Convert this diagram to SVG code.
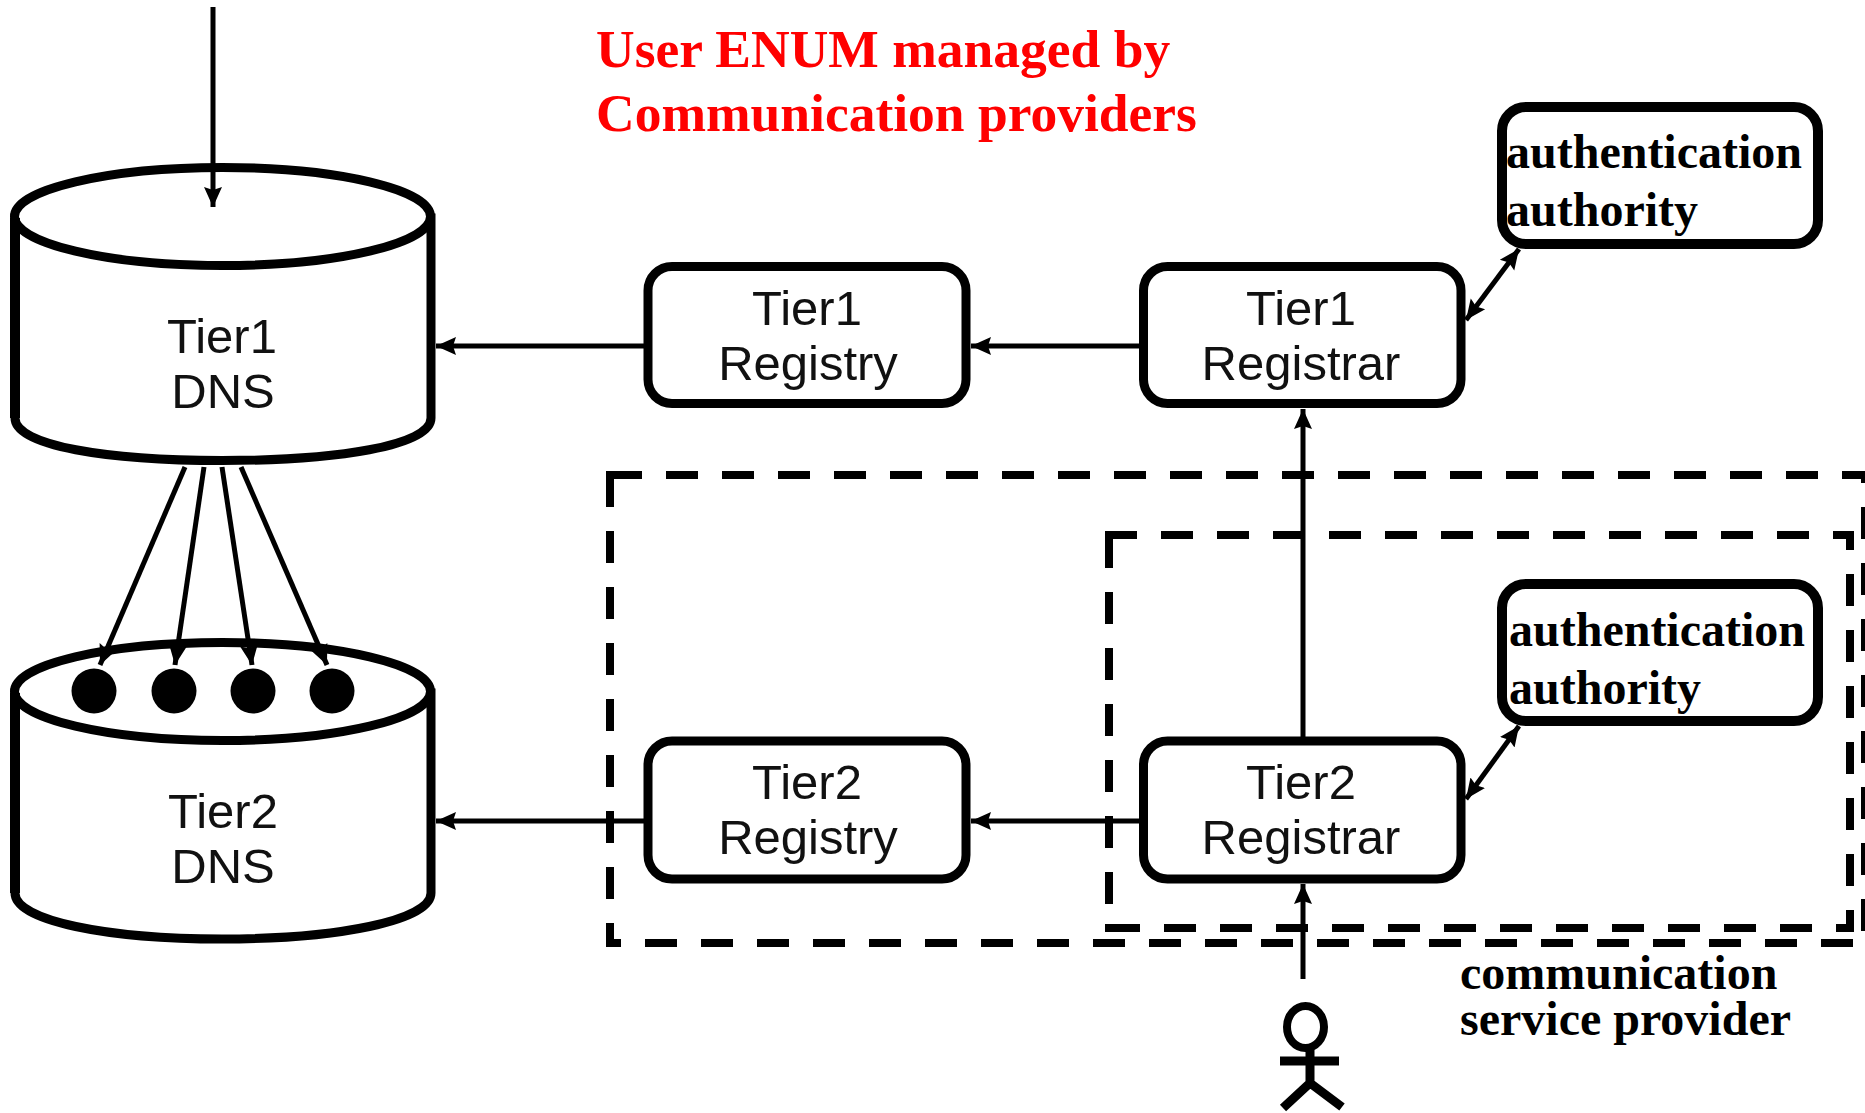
<svg xmlns="http://www.w3.org/2000/svg" width="1865" height="1113" viewBox="0 0 1865 1113">
<style>
.b{fill:#fff;stroke:#000;stroke-width:9}
.a{fill:#fff;stroke:#000;stroke-width:10}
.n{fill:none;stroke:#000;stroke-width:9}
.s{font-family:"Liberation Sans",Arial,sans-serif;font-size:49px;fill:#111;text-anchor:middle}
.t{font-family:"Liberation Serif","Times New Roman",serif;font-weight:bold;fill:#000}
.r{fill:#f00;font-size:53.500px}
.c{fill:none;stroke:#000;stroke-width:5}
.d{fill:none;stroke:#000;stroke-width:8;stroke-dasharray:32 24}
</style>
<defs>
<marker id="h" markerUnits="userSpaceOnUse" markerWidth="22" markerHeight="20" refX="20" refY="10" orient="auto-start-reverse"><path d="M0,1L20,10L0,19L3,10Z" fill="#000"/></marker>
</defs>
<rect width="1865" height="1113" fill="#fff"/>
<g id="provider-boxes">
<path class="d" d="M610,475H1865"/>
<path class="d" d="M610,475V947"/>
<path class="d" d="M606,943H1865" stroke-dashoffset="17"/>
<path class="d" d="M1865,507V931"/>
<path d="M606,471h8v8h-8zM1861,471h4v12h-4zM1846,531h8v8h-8zM1105,924h4v8h-4z"/>
<path class="d" d="M1105,535H1854"/>
<path class="d" d="M1850,531V932" stroke-dashoffset="13"/>
<path class="d" d="M1108,928H1854"/>
<path class="d" d="M1109,536V905"/>
<path d="M1105,531h8v8h-8z"/>
</g>
<g id="tier1-dns">
<path class="b" d="M15,218V418C15,446 108,460.500 222,460.500C336,460.500 431,446 431,418V218Z"/>
<ellipse class="b" cx="222.500" cy="216.500" rx="208" ry="49"/>
<path d="M10,218h10V418h-10z"/>
<text class="s" x="222" y="353">Tier1</text>
<text class="s" x="223" y="408">DNS</text>
</g>
<g id="tier2-dns">
<path class="b" d="M15,693V893C15,921 108,939 222,939C336,939 431,921 431,893V693Z"/>
<ellipse class="b" cx="222.500" cy="691.500" rx="208" ry="49"/>
<path d="M10,693h10V893h-10z"/>
<text class="s" x="223" y="828">Tier2</text>
<text class="s" x="223" y="883">DNS</text>
<circle cx="94" cy="691" r="22.500"/><circle cx="174" cy="691" r="22.500"/><circle cx="253" cy="691" r="22.500"/><circle cx="332" cy="691" r="22.500"/>
</g>
<g id="tier1-registry">
<rect class="b" x="648" y="266.500" width="318" height="137" rx="24"/>
<text class="s" x="807" y="325">Tier1</text>
<text class="s" x="808" y="380">Registry</text>
</g>
<g id="tier1-registrar">
<rect class="b" x="1143.500" y="266.500" width="317.500" height="137" rx="24"/>
<text class="s" x="1301" y="325">Tier1</text>
<text class="s" x="1301" y="380">Registrar</text>
</g>
<g id="tier2-registry">
<rect class="b" x="648" y="741" width="318" height="138" rx="24"/>
<text class="s" x="807" y="799">Tier2</text>
<text class="s" x="808" y="854">Registry</text>
</g>
<g id="tier2-registrar">
<rect class="b" x="1143.500" y="741" width="317.500" height="138" rx="24"/>
<text class="s" x="1301" y="799">Tier2</text>
<text class="s" x="1301" y="854">Registrar</text>
</g>
<g id="auth1">
<rect class="a" x="1502" y="107" width="316" height="137" rx="24"/>
<text class="t" x="1506" y="168" font-size="48">authentication</text>
<text class="t" x="1506" y="226" font-size="48">authority</text>
</g>
<g id="auth2">
<rect class="a" x="1502" y="584" width="316" height="137" rx="24"/>
<text class="t" x="1509" y="646" font-size="48">authentication</text>
<text class="t" x="1509" y="704" font-size="48">authority</text>
</g>
<g id="user">
<ellipse cx="1305.500" cy="1027" rx="18.500" ry="21" fill="none" stroke="#000" stroke-width="8"/>
<path class="n" d="M1280,1061H1339M1310,1050V1085M1310,1083L1283,1108M1310,1083L1342,1107"/>
</g>
<g id="connectors">
<path class="c" d="M213,7V207" marker-end="url(#h)"/>
<path class="c" d="M646,346H436" marker-end="url(#h)"/>
<path class="c" d="M1139,346H971" marker-end="url(#h)"/>
<path class="c" d="M646,821H436" marker-end="url(#h)"/>
<path class="c" d="M1139,821H971" marker-end="url(#h)"/>
<path class="c" d="M1303,737V409" marker-end="url(#h)"/>
<path class="c" d="M1303,979V884" marker-end="url(#h)"/>
<path class="c" d="M1466,320L1519,249" marker-start="url(#h)" marker-end="url(#h)"/>
<path class="c" d="M1466,799L1519,726" marker-start="url(#h)" marker-end="url(#h)"/>
<path class="c" d="M185,467L100,665" marker-end="url(#h)"/>
<path class="c" d="M204,467L175,665" marker-end="url(#h)"/>
<path class="c" d="M222,467L252,665" marker-end="url(#h)"/>
<path class="c" d="M241,467L327,665" marker-end="url(#h)"/>
</g>
<g id="labels">
<text class="t r" x="596" y="67">User ENUM managed by</text>
<text class="t r" x="596" y="131">Communication providers</text>
<text class="t" x="1460" y="989" font-size="48">communication</text>
<text class="t" x="1460" y="1035" font-size="48">service provider</text>
</g>
</svg>
